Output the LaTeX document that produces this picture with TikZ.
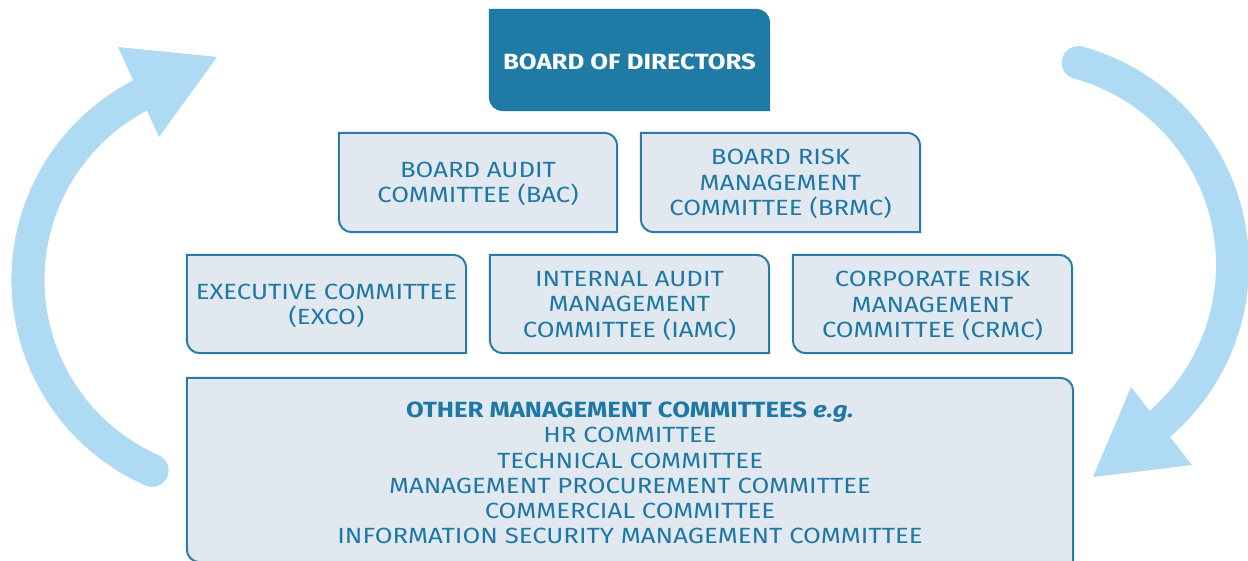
\documentclass[tikz,border=0pt]{standalone}
\usepackage{fontspec}
\setmainfont{Fira Sans}[FakeStretch=1.17]
\usetikzlibrary{backgrounds}
\definecolor{boardblue}{HTML}{1F7AA5}
\definecolor{edgeblue}{HTML}{2A7BA6}
\definecolor{txtblue}{HTML}{1F78A3}
\definecolor{paleblue}{HTML}{E1E8F0}
\definecolor{arrowblue}{HTML}{AEDAF3}
\newcommand\cornerbox[3]{%
  \draw[line width=2pt, draw=#3, fill=#2] (#1.north west) -- ([xshift=-13pt]#1.north east)
    arc[start angle=90,end angle=0,radius=13pt] -- (#1.south east) -- ([xshift=13pt]#1.south west)
    arc[start angle=270,end angle=180,radius=13pt] -- cycle;}
\begin{document}
\begin{tikzpicture}[x=1pt,y=1pt,
  lbl/.style={text=txtblue, font=\fontsize{22}{25.2}\selectfont, align=center, inner sep=0pt,
    minimum width=279pt, minimum height=99pt},
  txt/.style={text=txtblue, font=\fontsize{22}{25.2}\selectfont, align=center, inner sep=0pt},
  arc/.style={draw=arrowblue, line width=33pt},
  tip/.style={fill=arrowblue}]
\useasboundingbox (0,0) rectangle (1248,-560);
\node[lbl, minimum height=100pt] (bod) at (629.5,-60) {};
\node[lbl, minimum width=278pt] (bac) at (478,-182.5) {};
\node[lbl] (brmc) at (780.5,-182.5) {};
\node[lbl, minimum height=98pt] (exco) at (326.5,-304) {};
\node[lbl, minimum height=98pt] (iamc) at (629.5,-304) {};
\node[lbl, minimum height=98pt] (crmc) at (932.5,-304) {};
\node[lbl, minimum width=886pt, minimum height=184pt] (other) at (630,-470) {};
\begin{scope}[on background layer]
\fill[white] (0,0) rectangle (1248,-560);
\cornerbox{bod}{boardblue}{boardblue}
\cornerbox{bac}{paleblue}{edgeblue}
\cornerbox{brmc}{paleblue}{edgeblue}
\cornerbox{exco}{paleblue}{edgeblue}
\cornerbox{iamc}{paleblue}{edgeblue}
\cornerbox{crmc}{paleblue}{edgeblue}
\cornerbox{other}{paleblue}{edgeblue}
\end{scope}
\node[txt, text=white, font=\fontsize{22}{25.2}\selectfont\bfseries] (bodt) at ([yshift=-2pt]bod.center) {BOARD OF DIRECTORS};
\node[txt] (bact) at ([yshift=-1.5pt]bac.center) {BOARD AUDIT\\COMMITTEE (BAC)};
\node[txt] (brmct) at ([yshift=-1.5pt]brmc.center) {BOARD RISK\\MANAGEMENT\\COMMITTEE (BRMC)};
\node[txt] (excot) at ([yshift=-2pt]exco.center) {EXECUTIVE COMMITTEE\\(EXCO)};
\node[txt] (iamct) at ([yshift=-2pt]iamc.center) {INTERNAL AUDIT\\MANAGEMENT\\COMMITTEE (IAMC)};
\node[txt] (crmct) at ([yshift=-2pt]crmc.center) {CORPORATE RISK\\MANAGEMENT\\COMMITTEE (CRMC)};
\node[txt] (othert) at ([yshift=-3pt]other.center) {\textbf{OTHER MANAGEMENT COMMITTEES \textit{e.g.}}\\HR COMMITTEE\\TECHNICAL COMMITTEE\\MANAGEMENT PROCUREMENT COMMITTEE\\COMMERCIAL COMMITTEE\\INFORMATION SECURITY MANAGEMENT COMMITTEE};
% left cycle arrow
\draw[arc, line cap=round] (236,-280) ++(246.2:208) arc[start angle=246.2, end angle=117.4, radius=208];
\fill[tip] (118,-47) -- (217,-57) -- (159,-137) -- cycle;
% right cycle arrow
\draw[arc, line cap=round] (1022.5,-265) ++(74.6:210) arc[start angle=74.6, end angle=-49.2, radius=210];
\fill[tip] (1131,-387) -- (1192,-465) -- (1093,-477) -- cycle;
\end{tikzpicture}
\end{document}
